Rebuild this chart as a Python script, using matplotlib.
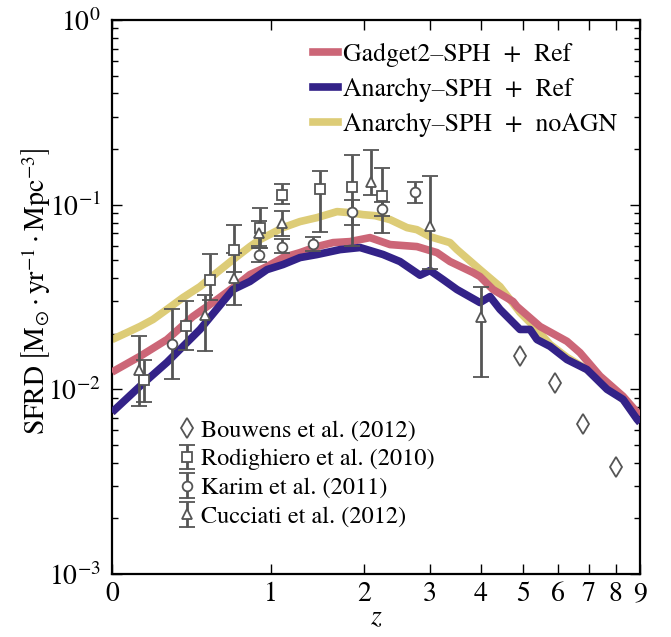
import numpy as np
import matplotlib
matplotlib.use('Agg')
import matplotlib.pyplot as plt
from matplotlib.lines import Line2D

plt.rcParams['font.family'] = ['STIXGeneral', 'DejaVu Serif']
plt.rcParams['mathtext.fontset'] = 'stix'
plt.rcParams['font.size'] = 20

# ---- simulation curves (z, SFRD) ----
gadget_z = [0.0, 0.13, 0.271, 0.423, 0.58, 0.748, 0.825, 0.966, 1.108, 1.27, 1.445, 1.622,
            1.824, 2.081, 2.362, 2.78, 3.126, 3.367, 3.828, 3.977, 4.268, 4.748, 4.848, 5.465,
            6.272, 6.697, 7.4, 8.286, 8.87, 9.0]
gadget_sfrd = [0.0124, 0.0151, 0.0186, 0.0248, 0.0306, 0.0379, 0.0418, 0.0462, 0.0517, 0.0550,
               0.0593, 0.0623, 0.0631, 0.0663, 0.0608, 0.0593, 0.0550, 0.0492, 0.0429, 0.0408,
               0.0347, 0.0299, 0.0281, 0.0219, 0.0182, 0.0158, 0.0118, 0.00917, 0.00751, 0.0072]

anarchy_z = [0.0, 0.13, 0.271, 0.468, 0.695, 0.825, 0.966, 1.108, 1.27, 1.445, 1.703, 1.95,
             2.262, 2.511, 2.831, 3.002, 3.236, 3.502, 3.977, 4.199, 4.431, 4.925, 5.19, 5.381,
             5.753, 6.272, 6.935, 7.661, 8.286, 8.87, 9.0]
anarchy_sfrd = [0.00751, 0.0104, 0.0140, 0.0211, 0.0347, 0.0384, 0.0445, 0.0474, 0.0517, 0.0537,
                0.0571, 0.0586, 0.0537, 0.0492, 0.0415, 0.0440, 0.0393, 0.0347, 0.0295, 0.0318,
                0.0271, 0.0211, 0.0211, 0.0186, 0.0171, 0.0145, 0.0128, 0.0100, 0.00883,
                0.00689, 0.0066]

noagn_z = [0.0, 0.068, 0.13, 0.196, 0.271, 0.363, 0.468, 0.58, 0.695, 0.825, 0.906, 1.108,
           1.27, 1.445, 1.668, 1.824, 1.988, 2.149, 2.362, 2.62, 2.78, 3.002, 3.367, 3.502,
           3.977, 4.431, 4.925, 5.381, 5.753, 6.272, 6.935, 7.661, 8.286, 8.87, 9.0]
noagn_sfrd = [0.0186, 0.0203, 0.0219, 0.0239, 0.0271, 0.0314, 0.0360, 0.0429, 0.0504, 0.0593,
              0.0647, 0.0751, 0.0810, 0.0851, 0.0917, 0.0905, 0.0883, 0.0872, 0.0830, 0.0751,
              0.0732, 0.0671, 0.0623, 0.0571, 0.0445, 0.0360, 0.0261, 0.0211, 0.0175, 0.0149,
              0.0128, 0.0103, 0.00883, 0.00706, 0.0066]

# ---- observations ----
bouwens_z = [4.93, 5.91, 6.81, 8.0]
bouwens_sfrd = [0.0151, 0.0108, 0.0065, 0.0038]

rodi_z = [0.15, 0.38, 0.53, 0.70, 0.91, 1.10, 1.48, 1.85, 2.25]
rodi_sfrd = [0.0113, 0.022, 0.0393, 0.0571, 0.0751, 0.113, 0.122, 0.124, 0.112]
rodi_lo = [0.0085, 0.0163, 0.0306, 0.0434, 0.0586, 0.101, 0.0715, 0.060, 0.070]
rodi_hi = [0.0145, 0.0299, 0.0543, 0.078, 0.0963, 0.130, 0.153, 0.186, 0.157]

karim_z = [0.30, 0.90, 1.10, 1.40, 1.85, 2.25, 2.75]
karim_sfrd = [0.0175, 0.0537, 0.0593, 0.0616, 0.0917, 0.0951, 0.1175]
karim_lo = [0.0114, 0.049, 0.0550, 0.056, 0.0780, 0.0872, 0.1017]
karim_hi = [0.0271, 0.058, 0.0653, 0.067, 0.1064, 0.1037, 0.1333]

cucc_z = [0.125, 0.50, 0.70, 0.90, 1.10, 2.10, 3.0, 4.0]
cucc_sfrd = [0.0128, 0.0254, 0.0403, 0.0706, 0.0799, 0.133, 0.0770, 0.0245]
cucc_lo = [0.0081, 0.0162, 0.0287, 0.060, 0.068, 0.113, 0.045, 0.0116]
cucc_hi = [0.0194, 0.0325, 0.055, 0.082, 0.092, 0.198, 0.1435, 0.036]

xticks = [0, 1, 2, 3, 4, 5, 6, 7, 8, 9]

pink = '#CC6677'
navy = '#332288'
sand = '#DDCC77'
gray = '#555555'

fig = plt.figure(figsize=(6.71, 6.37), dpi=100)
ax = fig.add_axes([112/671, 1-574/637, 528/671, 554/637])


def fwd(z):
    z = np.asarray(z, dtype=float)
    return np.log10(np.clip(1 + z, 1e-12, None))


def inv(x):
    return 10 ** np.asarray(x, dtype=float) - 1


ax.set_xscale('function', functions=(fwd, inv))
ax.set_yscale('log')

lw = 5.5
ax.plot(noagn_z, noagn_sfrd, color=sand, lw=lw, solid_capstyle='butt',
        solid_joinstyle='round', zorder=2)
ax.plot(gadget_z, gadget_sfrd, color=pink, lw=lw, solid_capstyle='butt',
        solid_joinstyle='round', zorder=3)
ax.plot(anarchy_z, anarchy_sfrd, color=navy, lw=lw, solid_capstyle='butt',
        solid_joinstyle='round', zorder=4)

ekw = dict(ls='none', mfc='white', mec=gray, ecolor=gray, ms=7, mew=1.3,
           capsize=6, elinewidth=2.0, capthick=2.0, zorder=5)


def err(v, lo, hi):
    v = np.asarray(v); lo = np.asarray(lo); hi = np.asarray(hi)
    return [v - lo, hi - v]


hb, = ax.plot(bouwens_z, bouwens_sfrd, ls='none', marker='d', ms=10, mfc='white',
              mec=gray, mew=1.3, zorder=5)
hr = ax.errorbar(rodi_z, rodi_sfrd, yerr=err(rodi_sfrd, rodi_lo, rodi_hi), marker='s', **ekw)
hk = ax.errorbar(karim_z, karim_sfrd, yerr=err(karim_sfrd, karim_lo, karim_hi), marker='o', **ekw)
hc = ax.errorbar(cucc_z, cucc_sfrd, yerr=err(cucc_sfrd, cucc_lo, cucc_hi), marker='^', **ekw)

ax.set_xlim(0, 9)
ax.set_ylim(1e-3, 1)
ax.set_xticks(xticks)
ax.set_xticklabels([str(t) for t in xticks])
ax.xaxis.set_minor_locator(matplotlib.ticker.NullLocator())

ax.tick_params(which='both', direction='in', top=True, right=True)
ax.tick_params(which='major', length=7, width=1.0)
ax.tick_params(which='minor', length=4, width=1.0)
ax.tick_params(axis='x', pad=6, labelsize=20)
ax.tick_params(axis='y', pad=8, labelsize=20)
for s in ax.spines.values():
    s.set_linewidth(1.6)

ax.set_xlabel(r'$z$', fontsize=20, labelpad=-2)
ax.set_ylabel(r'SFRD$\;\left[\mathrm{M}_{\odot}\cdot\mathrm{yr}^{-1}\cdot\mathrm{Mpc}^{-3}\right]$',
              fontsize=20)
ax.yaxis.set_label_coords(-0.112, 0.51)

leg1 = ax.legend([Line2D([], [], color=pink, lw=5.5),
                  Line2D([], [], color=navy, lw=5.5),
                  Line2D([], [], color=sand, lw=5.5)],
                 ['Gadget2–SPH  +  Ref', 'Anarchy–SPH  +  Ref', 'Anarchy–SPH  +  noAGN'],
                 loc='upper right', bbox_to_anchor=(0.956, 0.958), frameon=False,
                 borderpad=0, handlelength=0.95, handletextpad=0.2, labelspacing=0.42,
                 fontsize=18.5, borderaxespad=0)
ax.add_artist(leg1)

leg2 = ax.legend([hb, hr, hk, hc],
                 ['Bouwens et al. (2012)', 'Rodighiero et al. (2010)', 'Karim et al. (2011)',
                  'Cucciati et al. (2012)'],
                 loc='upper left', bbox_to_anchor=(0.13, 0.279), frameon=False,
                 borderpad=0, handlelength=0.55, handletextpad=0.3, labelspacing=0.28,
                 fontsize=17.5, borderaxespad=0)

fig.savefig('out.png', dpi=100)
